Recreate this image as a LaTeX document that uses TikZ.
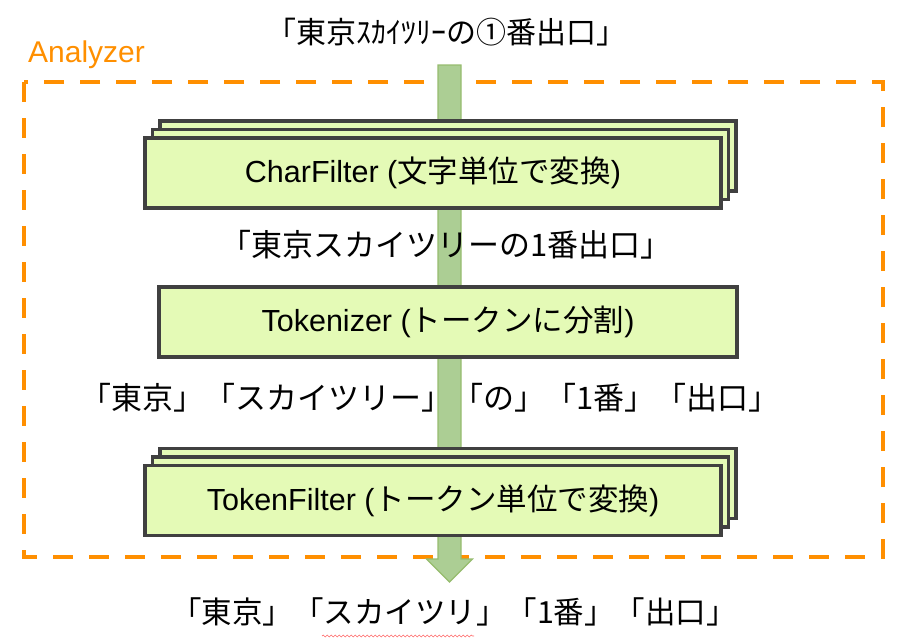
\documentclass[tikz,border=0pt]{standalone}
\usepackage{fontspec}
\setmainfont{Liberation Sans}
\newfontfamily\jp{Noto Sans CJK JP}
\usetikzlibrary{shadows,decorations.pathmorphing}
\definecolor{boxfill}{RGB}{228,250,182}
\definecolor{boxline}{RGB}{64,64,64}
\definecolor{flowfill}{RGB}{172,206,148}
\definecolor{flowline}{RGB}{150,188,110}
\definecolor{anaorange}{RGB}{255,143,0}
\begin{document}
\begin{tikzpicture}[x=1pt, y=-1pt, line join=miter,
  stage/.style={draw=boxline, fill=boxfill, line width=3.2pt, minimum width=576pt, minimum height=70pt, inner sep=0pt, font=\fontsize{30.5}{36}\selectfont},
  stack/.style={stage,
    copy shadow={shadow xshift=15pt, shadow yshift=17pt, fill=boxfill, draw=boxline, line width=3.2pt},
    copy shadow={shadow xshift=7.5pt, shadow yshift=8.5pt, fill=boxfill, draw=boxline, line width=3.2pt}},
  txt/.style={font=\jp\fontsize{31}{36}\selectfont, inner sep=0pt}]
 \def\hw{11.5} \def\hh{23}
 \useasboundingbox (0,0) rectangle (909,643);
 \node[txt, font=\jp\fontsize{30}{36}\selectfont] (src) at (446,32) {「東京ｽｶｲﾂﾘｰの①番出口」};
 \node[anchor=west, inner sep=0pt, text=anaorange, font=\fontsize{30}{36}\selectfont] (ana) at (28,55) {Analyzer};
 \draw[anaorange, line width=4pt, dash pattern=on 20pt off 16pt] (24,82) rectangle (883,557);
 % flow arrow behind the stages
 \coordinate (flowin) at (449.5,65);
 \coordinate (flowout) at (449.5,582);
 \draw[flowline, fill=flowfill, line width=1.2pt] ([xshift=-\hw]flowin) -- ([xshift=\hw]flowin)
   -- ([xshift=\hw, yshift=\hh]flowout) -- ([xshift=2*\hw, yshift=\hh]flowout) -- (flowout)
   -- ([xshift=-2*\hw, yshift=\hh]flowout) -- ([xshift=-\hw, yshift=\hh]flowout) -- cycle;
 \node[stack] (charf) at (433,173) {CharFilter ({\jp 文字単位で変換})};
 \node[txt] (chars) at (446,245) {「東京スカイツリーの1番出口」};
 \node[stage, minimum width=578pt] (tokz) at (448,322) {Tokenizer ({\jp トークンに分割})};
 \node[txt] (toks) at (430,398) {「東京」「スカイツリー」「の」「1番」「出口」};
 \node[stack] (tokf) at (433,500.5) {TokenFilter ({\jp トークン単位で変換})};
 \node[txt, font=\jp\fontsize{30.5}{36}\selectfont] (outp) at (454,612) {「東京」「スカイツリ」「1番」「出口」};
 \draw[red!60, line width=.6pt, decorate, decoration={snake, amplitude=.9pt, segment length=4pt}] (322,636) -- (474,636);
\end{tikzpicture}
\end{document}
